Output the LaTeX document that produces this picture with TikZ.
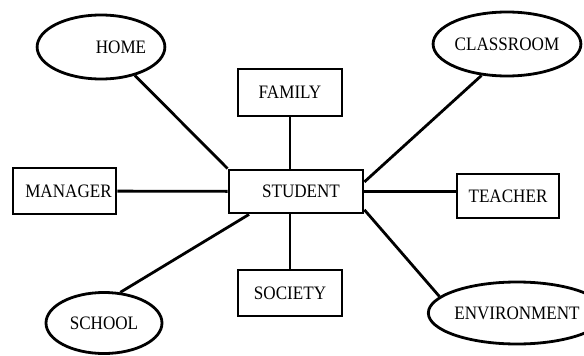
\documentclass[tikz,border=0pt]{standalone}
\usepackage{fontspec}
\setmainfont{Liberation Serif}[FakeStretch=0.9]
\usetikzlibrary{shapes.geometric}

\begin{document}
\begin{tikzpicture}[x=1pt, y=-1pt,
        box/.style={draw, rectangle, line width=2.8pt, inner sep=0pt, font=\fontsize{19}{22}\selectfont},
        oval/.style={draw, ellipse, line width=2.8pt, inner sep=0pt, font=\fontsize{19}{22}\selectfont},
        link/.style={line width=2.8pt}]
        \useasboundingbox (0,0) rectangle (584,356);
        \node[box, minimum width=134pt, minimum height=43pt] (student) at (296,191.5) {\hspace{10pt}STUDENT};
        \node[box, minimum width=104pt, minimum height=47pt] (family) at (290,92.5) {FAMILY};
        \node[box, minimum width=103pt, minimum height=46pt] (manager) at (64.5,191) {\hspace{8pt}MANAGER};
        \node[box, minimum width=102pt, minimum height=44pt] (teacher) at (508,196) {TEACHER};
        \node[box, minimum width=104pt, minimum height=46pt] (society) at (290,293) {SOCIETY};
        \node[oval, minimum width=116pt, minimum height=64pt] (home) at (101,47) {\hspace{40pt}HOME};
        \node[oval, minimum width=117pt, minimum height=64pt] (classroom) at (507,44) {CLASSROOM};
        \node[oval, minimum width=116pt, minimum height=61pt] (school) at (104,323) {SCHOOL};
        \node[oval, minimum width=128pt, minimum height=62pt] (environment) at (517,313) {ENVIRONMENT};
        \draw[link] (home.-40) -- (student.north west);
        \draw[link] (family) -- (family |- student.north);
        \draw[link] (classroom.-129) -- (student.8);
        \draw[link] (manager) -- (student);
        \draw[link] (student) -- (student -| teacher.west);
        \draw[link] (student.-15) -- (environment.168);
        \draw[link] (student.-154) -- (school.62);
        \draw[link] (student.south -| society) -- (society);
    \end{tikzpicture}
\end{document}
